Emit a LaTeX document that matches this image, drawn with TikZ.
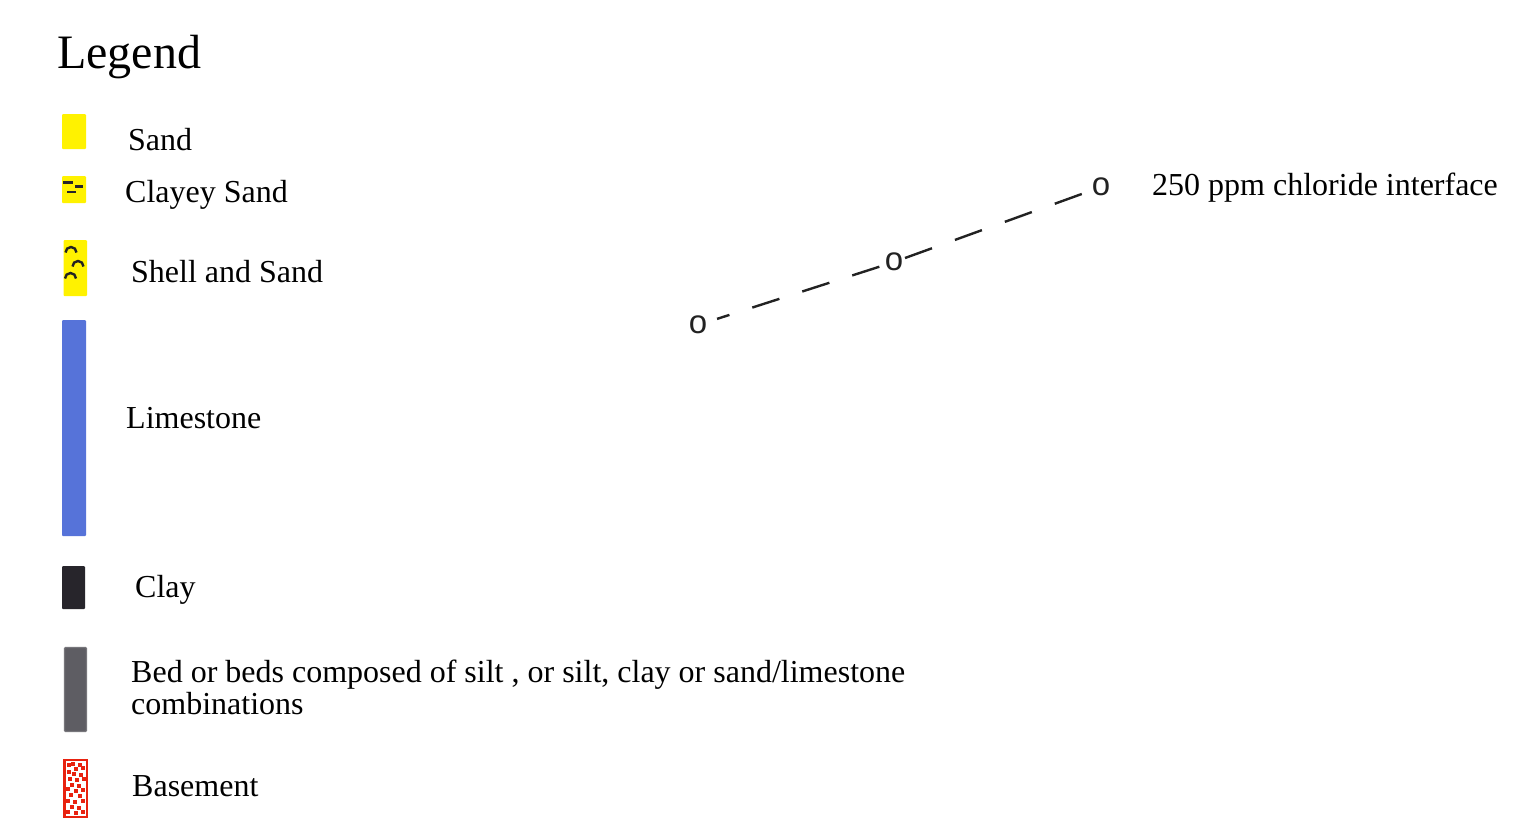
\documentclass[tikz,border=0pt]{standalone}
\usepackage{fontspec}
\setmainfont{Liberation Serif}
\newfontfamily\osans{Liberation Sans}
\definecolor{sandY}{HTML}{FFF200}
\definecolor{limeB}{HTML}{5673D9}
\definecolor{clayK}{HTML}{27252B}
\definecolor{bedG}{HTML}{5E5D63}
\definecolor{bedE}{HTML}{77767B}
\definecolor{baseR}{HTML}{E8220F}
\definecolor{inkK}{HTML}{222222}
\tikzset{
  lbl/.style={anchor=base west, inner sep=0pt, font=\fontsize{32}{32}\selectfont, text=black},
  swatch/.style={rounded corners=1pt},
  omark/.style={inner sep=0pt, font=\osans\fontsize{33}{33}\selectfont, text=inkK},
  iface/.style={line width=2.4pt, draw=inkK},
  shellarc/.style={line width=2.4pt, draw=inkK},
}
\begin{document}
\begin{tikzpicture}[x=1pt,y=-1pt]
\useasboundingbox (0,0) rectangle (1513,831);
% title
\node[lbl, font=\fontsize{48}{48}\selectfont] (title) at (57,68) {Legend};
% Sand
\fill[sandY, swatch] (62,114) rectangle (86,149);
\node[lbl] (lsand) at (128,150) {Sand};
% Clayey sand
\fill[sandY, swatch] (62,176) rectangle (86,203);
\fill[clayK] (62.5,181) rectangle (72.7,183.8);
\fill[clayK] (75,185) rectangle (83,188.3);
\fill[clayK] (67,190.5) rectangle (76,193.3);
\node[lbl] (lclayey) at (125,202) {Clayey Sand};
% Shell and sand
\fill[sandY, swatch] (63.5,240) rectangle (87,296);
\draw[shellarc] (65.5,252.5) arc[start angle=180, end angle=360, radius=5.5];
\draw[shellarc] (72.5,266.5) arc[start angle=180, end angle=360, radius=5.5];
\draw[shellarc] (65,278.5) arc[start angle=180, end angle=360, radius=5.5];
\node[lbl] (lshell) at (131,282) {Shell and Sand};
% Limestone
\fill[limeB, swatch] (62,320) rectangle (86,536);
\node[lbl] (llime) at (126,428) {Limestone};
% Clay
\fill[clayK, swatch] (62,566) rectangle (85,609);
\node[lbl] (lclay) at (135,597) {Clay};
% Bed
\fill[bedG, draw=bedE, line width=1.2pt, swatch] (64.5,647.5) rectangle (86.5,731.5);
\node[lbl] (lbed) at (131,682) {Bed or beds composed of silt , or silt, clay or sand/limestone};
\node[lbl] (lbed2) at (131,714) {combinations};
% Basement
\draw[baseR, line width=2.4pt, fill=white] (64.5,760) rectangle (87,817);
\foreach \x/\y in {67/763,71/762,78/763,74/767,81/766,67/770,72/772,79/773,68/777,75/778,82/777,70/783,77/784,66/787,74/789,81/788,69/793,78/794,66/799,73/800,81/799,70/805,77/806,66/810,74/811,81/810}
  \fill[baseR] (\x,\y) rectangle ++(4.2,4.2);
\node[lbl] (lbase) at (132,796) {Basement};
% chloride interface
\node[omark] (o1) at (698,325) {o};
\node[omark] (o2) at (894,262) {o};
\node[omark] (o3) at (1101,187) {o};
\draw[iface, dash pattern=on 28.5pt off 24pt, dash phase=15.5pt, shorten <=20pt, shorten >=12.6pt] (o1.center) -- (o2.center);
\draw[iface, dash pattern=on 28.7pt off 24.4pt, shorten <=11.7pt, shorten >=18pt] (o2.center) -- (o3.center);
\node[lbl] (lcl) at (1152,195) {250 ppm chloride interface};
\end{tikzpicture}
\end{document}
